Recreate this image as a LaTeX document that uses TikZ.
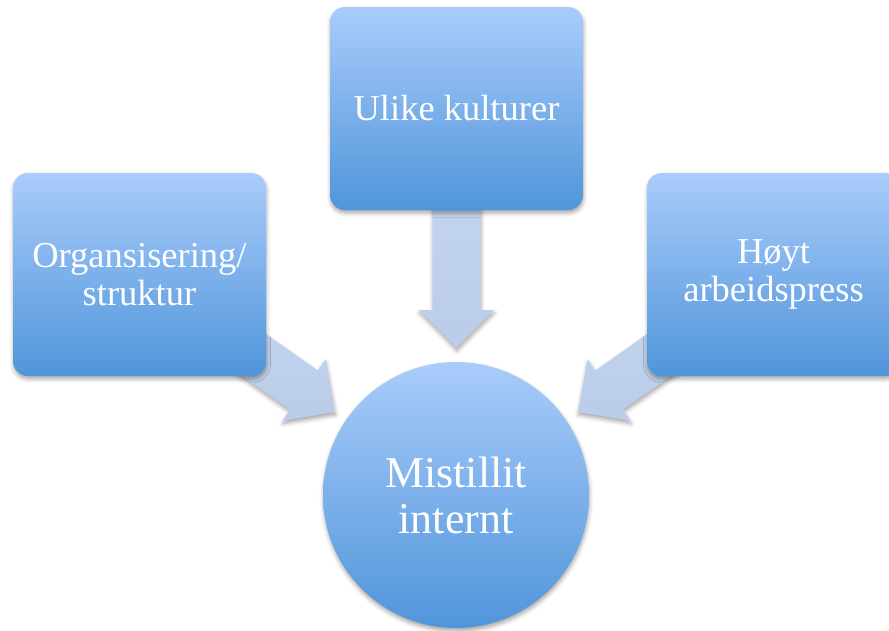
\documentclass[tikz,border=0pt]{standalone}
\usepackage{fontspec}
\setmainfont{Liberation Serif}
\usetikzlibrary{calc,shadows.blur,backgrounds}

\definecolor{boxtop}{RGB}{169,204,251}
\definecolor{boxbot}{RGB}{80,149,218}
\definecolor{arrtop}{RGB}{200,216,241}
\definecolor{arrbot}{RGB}{186,204,233}

\tikzset{
  softshadow/.style={blur shadow={shadow xshift=0.5pt, shadow yshift=-3pt,
      shadow blur radius=4pt, shadow opacity=35}},
  factor/.style={rectangle, rounded corners=15pt, minimum width=253pt,
      minimum height=203pt, top color=boxtop, bottom color=boxbot, softshadow,
      text=white, align=center, inner sep=0pt,
      font=\fontsize{36.5}{38}\selectfont},
  core/.style={circle, minimum size=266pt, top color=boxtop, bottom color=boxbot,
      softshadow, text=white, align=center, inner sep=0pt,
      font=\fontsize{44}{46}\selectfont},
  blockarrow/.style={top color=arrtop, bottom color=arrbot, softshadow}
}

% broad arrow from tail #1 to tip #2: shaft 48pt wide, head 75pt wide and 38pt long
\newcommand\fatarrow[2]{%
  \coordinate (#2-base) at ($(#2)!38pt!(#1)$);
  \path[blockarrow]
    ($(#1)!24pt!90:(#2)$) -- ($(#2-base)!24pt!90:(#2)$)
    -- ($(#2-base)!37.5pt!90:(#2)$) -- (#2)
    -- ($(#2-base)!37.5pt!-90:(#2)$) -- ($(#2-base)!24pt!-90:(#2)$)
    -- ($(#1)!24pt!-90:(#2)$) -- cycle;
}

\begin{document}
\begin{tikzpicture}[x=1pt, y=-1pt]
  \useasboundingbox (0,0) rectangle (889,630);

  % causes and the central effect
  \node[factor] (org) at (139.5,274.5) {Organsisering/\\struktur};
  \node[factor] (kul) at (456.5,108.5) {Ulike kulturer};
  \node[factor] (arb) at (773.5,274.5) {Høyt\\arbeidspress};
  \node[core]   (mis) at (456,495)     {Mistillit\\internt};

  % arrow tips just outside the circle
  \coordinate (tipL) at (335,412);
  \coordinate (tipT) at (456.5,348);
  \coordinate (tipR) at (578,412);

  \begin{pgfonlayer}{background}
    \fatarrow{org.center}{tipL}
    \fatarrow{kul.center}{tipT}
    \fatarrow{arb.center}{tipR}
  \end{pgfonlayer}
\end{tikzpicture}
\end{document}
